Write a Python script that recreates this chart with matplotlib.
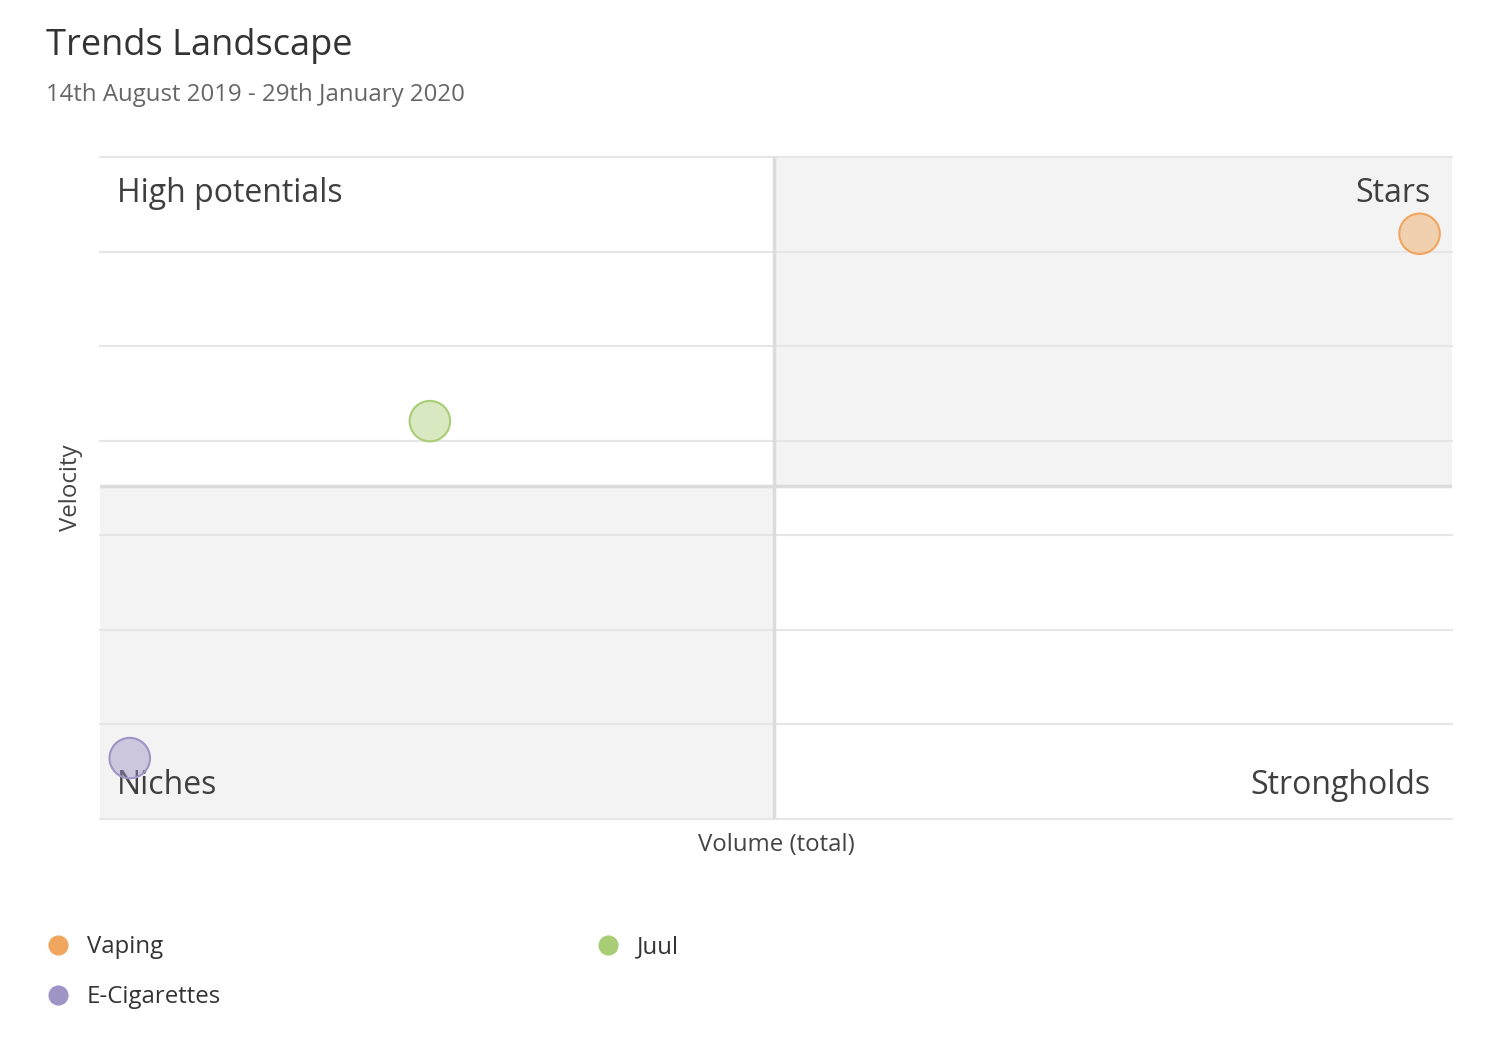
import matplotlib
matplotlib.use("Agg")
import matplotlib.pyplot as plt
from matplotlib.lines import Line2D
from matplotlib.patches import Rectangle

plt.rcParams['font.family'] = ['Open Sans', 'DejaVu Sans']

# Data (normalised volume / velocity)
series = ["Vaping", "E-Cigarettes", "Juul"]
volume = [0.976, 0.022, 0.244]
velocity = [0.884, 0.092, 0.601]
colors = ["#F0A65E", "#A093C6", "#A9CD75"]
quadrants = ["High potentials", "Stars", "Niches", "Strongholds"]
grid_vals = [i / 7 for i in range(8)]

fig = plt.figure(figsize=(14.98, 10.54), dpi=100)
ax = fig.add_axes([100/1498, 1 - 819/1054, 1352/1498, 662/1054])
ax.set_xlim(0, 1)
ax.set_ylim(0, 1)

# quadrant shading
ax.add_patch(Rectangle((0.5, 0.5), 0.5, 0.5, transform=ax.transAxes, color="#F3F3F3", zorder=0, lw=0))
ax.add_patch(Rectangle((0, 0), 0.5, 0.5, transform=ax.transAxes, color="#F3F3F3", zorder=0, lw=0))

for g in grid_vals:
    ax.axhline(g, color="#E6E6E6", lw=1.5, zorder=1, clip_on=False)
ax.axhline(0.503, color="#DCDCDC", lw=2.5, zorder=1)
ax.axvline(0.4985, color="#DCDCDC", lw=2.5, zorder=1)

for x, y, c in zip(volume, velocity, colors):
    ax.scatter([x], [y], s=850, facecolor=c, alpha=0.45, edgecolor="none", zorder=3, clip_on=False)
    ax.scatter([x], [y], s=850, facecolor="none", edgecolor=c, lw=1.5, zorder=4, clip_on=False)

tc = "#3F3F3F"
ax.text(0.0126, 0.945, quadrants[0], transform=ax.transAxes, fontsize=23, color=tc, ha="left", va="center", zorder=2)
ax.text(0.984, 0.945, quadrants[1], transform=ax.transAxes, fontsize=23, color=tc, ha="right", va="center", zorder=2)
ax.text(0.0126, 0.050, quadrants[2], transform=ax.transAxes, fontsize=23, color=tc, ha="left", va="center", zorder=2)
ax.text(0.984, 0.050, quadrants[3], transform=ax.transAxes, fontsize=23, color=tc, ha="right", va="center", zorder=2)

for s in ax.spines.values():
    s.set_visible(False)
ax.set_xticks([])
ax.set_yticks([])

fig.text(776/1498, 1 - 845/1054, "Volume (total)", ha="center", va="center", fontsize=17.3, color="#444444")
fig.text(71/1498, 1 - 488/1054, "Velocity", ha="center", va="center", fontsize=17.3, color="#444444", rotation=90)

fig.text(46/1498, 1 - 46/1054, "Trends Landscape", ha="left", va="center", fontsize=26, color="#333333")
fig.text(46/1498, 1 - 95/1054, "14th August 2019 - 29th January 2020", ha="left", va="center", fontsize=17.3, color="#666666")

handles = [Line2D([], [], marker="o", ls="none", markersize=13.5, markerfacecolor=c, markeredgecolor=c) for c in colors]
leg = fig.legend(handles, series, ncol=2, loc="upper left", bbox_to_anchor=(46/1498, 1 - 935/1054),
                 frameon=False, fontsize=17.3, labelcolor="#333333", handletextpad=0.7,
                 columnspacing=15.62, labelspacing=1.1, handlelength=1.0, borderpad=0, borderaxespad=0)

fig.savefig("out.png", dpi=100, facecolor="white")
